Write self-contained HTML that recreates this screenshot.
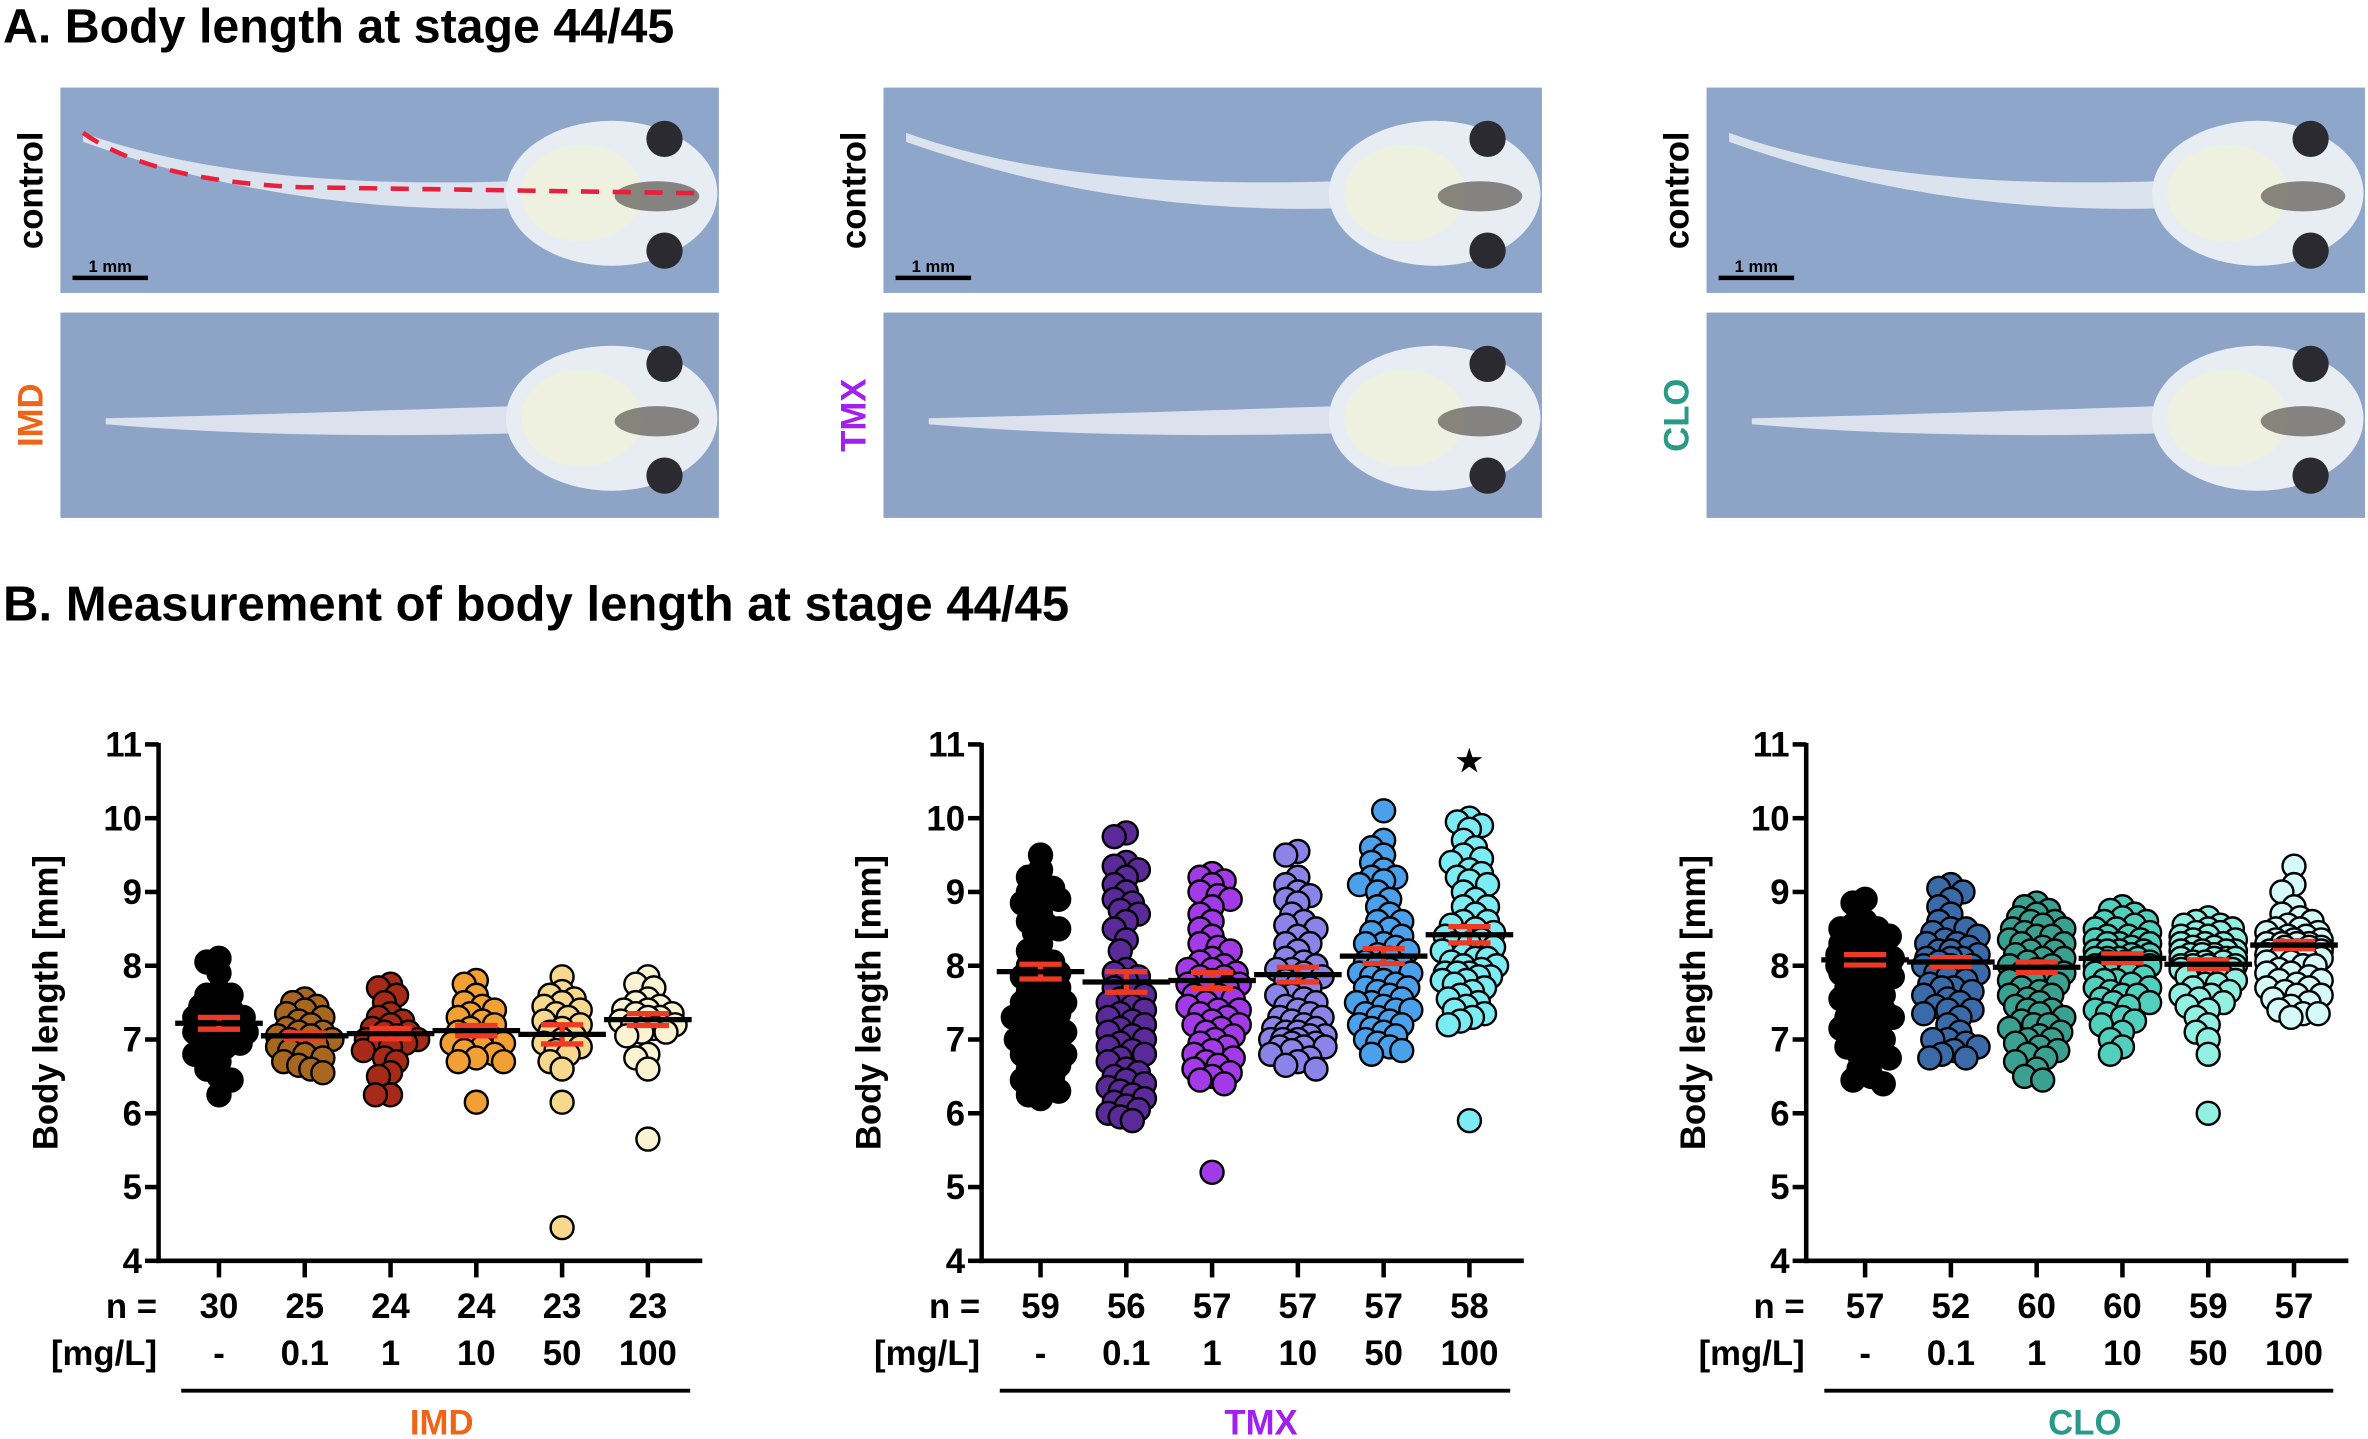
<!DOCTYPE html>
<html><head><meta charset="utf-8"><style>
html,body{margin:0;padding:0;background:#fff}
svg{display:block}
text{font-family:"Liberation Sans",Arial,sans-serif;font-weight:bold}
</style></head><body>
<svg id="fig" xmlns="http://www.w3.org/2000/svg" width="2368" height="1439" viewBox="0 0 1568 953" preserveAspectRatio="none">
<text x="2" y="28" font-size="32">A. Body length at stage 44/45</text>
<text x="2" y="411" font-size="32.5">B. Measurement of body length at stage 44/45</text>
<g id="photos"></g>
<g id="charts"></g>
</svg>
<script>
// ---- data ----
const tickLabels = [4,5,6,7,8,9,10,11];
const doseLabels = ["-","0.1","1","10","50","100"];
const compounds = ["IMD","TMX","CLO"];
const compoundColors = ["#f06418","#a020f0","#2a9a88"];
const nIMD = [30,25,24,24,23,23];
const nTMX = [59,56,57,57,57,58];
const nCLO = [57,52,60,60,59,57];
const meanIMD = [7.22,7.05,7.08,7.12,7.07,7.27];
const meanTMX = [7.92,7.78,7.80,7.88,8.13,8.42];
const meanCLO = [8.08,8.05,7.98,8.10,8.02,8.28];
const semIMD = [0.08,0.04,0.07,0.07,0.13,0.08];
const semTMX = [0.1,0.14,0.11,0.1,0.1,0.11];
const semCLO = [0.07,0.06,0.07,0.06,0.06,0.05];
const valsIMD = [
 [8.1,8.05,7.9,7.65,7.6,7.6,7.5,7.45,7.4,7.35,7.3,7.3,7.25,7.2,7.2,7.15,7.1,7.1,7.05,7.0,7.0,6.95,6.9,6.85,6.8,6.7,6.6,6.5,6.45,6.25],
 [7.55,7.5,7.45,7.4,7.35,7.3,7.25,7.2,7.15,7.1,7.1,7.05,7.05,7.0,7.0,6.95,6.9,6.9,6.85,6.8,6.75,6.7,6.65,6.6,6.55],
 [7.75,7.7,7.6,7.5,7.35,7.3,7.25,7.2,7.15,7.1,7.1,7.05,7.0,7.0,6.95,6.95,6.9,6.85,6.75,6.7,6.55,6.5,6.25,6.25],
 [7.8,7.75,7.6,7.5,7.45,7.4,7.35,7.3,7.25,7.2,7.15,7.1,7.05,7.0,7.0,6.95,6.95,6.9,6.85,6.8,6.75,6.7,6.7,6.15],
 [7.85,7.65,7.6,7.55,7.5,7.45,7.4,7.35,7.3,7.25,7.2,7.15,7.1,7.05,7.0,6.95,6.9,6.85,6.8,6.7,6.6,6.15,4.45],
 [7.85,7.75,7.7,7.55,7.5,7.45,7.4,7.4,7.35,7.35,7.3,7.3,7.25,7.2,7.2,7.15,7.1,7.1,7.05,6.8,6.75,6.6,5.65]
];
const valsTMX = [
 [9.5,9.3,9.2,9.1,9.05,9.0,8.95,8.9,8.85,8.7,8.6,8.55,8.5,8.45,8.3,8.2,8.1,8.05,8.0,7.95,7.9,7.85,7.8,7.75,7.7,7.65,7.6,7.55,7.5,7.5,7.45,7.4,7.35,7.3,7.3,7.25,7.2,7.15,7.1,7.1,7.05,7.0,6.95,6.9,6.85,6.8,6.8,6.75,6.7,6.65,6.6,6.55,6.5,6.45,6.4,6.35,6.3,6.25,6.2],
 [9.8,9.75,9.4,9.35,9.3,9.2,9.1,9.0,8.9,8.85,8.75,8.7,8.6,8.5,8.35,8.2,7.95,7.9,7.85,7.8,7.7,7.6,7.55,7.5,7.45,7.4,7.35,7.3,7.25,7.2,7.15,7.1,7.05,7.0,6.95,6.9,6.85,6.8,6.75,6.7,6.6,6.55,6.5,6.45,6.4,6.35,6.3,6.25,6.2,6.15,6.1,6.05,6.0,5.95,5.9,7.65],
 [9.25,9.2,9.15,9.1,9.0,8.95,8.9,8.8,8.7,8.6,8.5,8.4,8.3,8.2,8.1,8.0,7.95,7.9,7.85,7.8,7.75,7.7,7.65,7.6,7.55,7.5,7.45,7.4,7.35,7.3,7.25,7.2,7.15,7.1,7.05,7.0,6.95,6.9,6.85,6.8,6.75,6.7,6.65,6.6,6.55,6.5,6.45,6.4,7.95,8.05,7.85,7.75,7.6,7.4,7.2,8.25,5.2],
 [9.55,9.5,9.2,9.1,9.0,8.95,8.9,8.85,8.7,8.6,8.5,8.4,8.3,8.2,8.1,8.0,7.95,7.9,7.85,7.8,7.7,7.6,7.5,7.4,7.35,7.3,7.25,7.2,7.15,7.1,7.1,7.05,7.05,7.0,7.0,6.95,6.95,6.9,6.9,6.85,6.8,6.75,6.7,6.65,6.6,7.6,7.45,7.3,7.15,7.0,6.9,8.05,8.3,8.55,7.95,7.75,7.55],
 [10.1,9.7,9.6,9.5,9.4,9.3,9.2,9.2,9.15,9.1,9.0,8.9,8.8,8.7,8.6,8.5,8.45,8.4,8.3,8.25,8.2,8.15,8.1,8.05,8.0,7.95,7.9,7.85,7.8,7.75,7.7,7.65,7.6,7.55,7.5,7.45,7.4,7.35,7.3,7.25,7.2,7.15,7.1,7.05,7.0,6.95,6.9,6.85,6.8,7.5,7.4,7.2,7.9,8.0,8.3,8.6,7.7],
 [10.0,9.95,9.9,9.85,9.7,9.6,9.5,9.45,9.4,9.3,9.2,9.15,9.1,9.0,8.9,8.8,8.7,8.6,8.55,8.5,8.45,8.4,8.35,8.3,8.25,8.2,8.15,8.1,8.05,8.0,7.95,7.9,7.9,7.85,7.85,7.8,7.8,7.75,7.7,7.65,7.6,7.55,7.5,7.45,7.4,7.35,7.3,7.25,7.2,8.3,8.1,8.0,7.9,8.6,8.4,8.8,9.25,5.9]
];
const valsCLO = [
 [8.9,8.85,8.6,8.55,8.5,8.5,8.45,8.4,8.35,8.3,8.25,8.2,8.15,8.1,8.1,8.05,8.05,8.0,8.0,7.95,7.95,7.9,7.85,7.8,7.75,7.7,7.65,7.6,7.55,7.5,7.45,7.4,7.35,7.3,7.25,7.2,7.15,7.1,7.05,7.0,6.95,6.9,6.85,6.8,6.75,6.7,6.6,6.5,6.45,6.4,8.2,8.3,8.0,7.9,8.4,7.6,7.3],
 [9.1,9.05,9.0,8.9,8.8,8.7,8.6,8.5,8.45,8.4,8.35,8.3,8.25,8.2,8.15,8.1,8.1,8.05,8.0,8.0,7.95,7.9,7.85,7.8,7.75,7.7,7.65,7.6,7.55,7.5,7.45,7.4,7.35,7.3,7.2,7.1,7.0,6.95,6.9,6.85,6.8,6.75,8.2,8.1,8.0,7.9,8.3,8.5,7.7,7.4,7.0,6.75],
 [8.85,8.8,8.75,8.7,8.65,8.6,8.55,8.5,8.45,8.4,8.35,8.3,8.25,8.2,8.15,8.1,8.05,8.0,7.95,7.9,7.85,7.8,7.75,7.7,7.65,7.6,7.55,7.5,7.45,7.4,7.35,7.3,7.25,7.2,7.15,7.1,7.05,7.0,6.95,6.9,6.85,6.8,6.75,6.7,6.6,6.5,6.45,8.3,8.2,8.1,8.0,7.9,7.8,7.6,7.4,7.2,8.5,8.6,8.4,7.0],
 [8.8,8.75,8.7,8.65,8.6,8.55,8.5,8.45,8.4,8.35,8.3,8.25,8.2,8.2,8.15,8.15,8.1,8.1,8.05,8.05,8.0,8.0,7.95,7.9,7.85,7.8,7.75,7.7,7.65,7.6,7.55,7.5,7.45,7.4,7.35,7.3,7.2,7.1,7.0,6.9,6.8,8.3,8.2,8.1,8.0,7.9,8.4,8.5,8.6,7.6,7.8,8.0,8.1,8.2,8.3,7.7,7.5,7.25,8.35,8.05],
 [8.65,8.6,8.55,8.5,8.45,8.4,8.35,8.3,8.3,8.25,8.2,8.2,8.15,8.15,8.1,8.1,8.05,8.05,8.0,8.0,7.95,7.95,7.9,7.85,7.8,7.75,7.7,7.65,7.6,7.55,7.5,7.4,7.3,7.2,7.1,7.0,6.8,8.3,8.2,8.1,8.0,7.9,8.4,8.5,8.25,8.15,8.05,7.95,7.85,7.75,7.6,7.45,8.35,8.45,8.55,8.0,8.1,8.2,6.0],
 [9.35,9.1,9.0,8.8,8.7,8.6,8.55,8.5,8.45,8.4,8.35,8.35,8.3,8.3,8.25,8.25,8.2,8.2,8.15,8.15,8.1,8.1,8.05,8.0,7.95,7.9,7.85,7.8,7.75,7.7,7.65,7.6,7.55,7.5,7.45,7.4,7.35,7.3,8.3,8.2,8.1,8.4,8.5,8.0,7.9,8.25,8.35,8.15,8.05,7.8,7.6,8.45,8.3,8.2,7.7,7.35,8.65]
];
const colorsIMD = ["#000000","#a8671f","#a62a17","#f2a034","#f6d98c","#fbf3d2"];
const colorsTMX = ["#000000","#5a2a98","#a33ae8","#8a84e8","#4aa0ea","#7cecf4"];
const colorsCLO = ["#000000","#3a6aa8","#3aa090","#52d0be","#92f0e2","#d4fafa"];

// ---- layout ----
const NS = "http://www.w3.org/2000/svg";
function el(tag, attrs, parent){const e=document.createElementNS(NS,tag);for(const k in attrs)e.setAttribute(k,attrs[k]);parent.appendChild(e);return e;}
const yTop=493, yBot=835, vMin=4, vMax=11;
function yScale(v){return yBot-(v-vMin)/(vMax-vMin)*(yBot-yTop);}
const charts=[
 {ax:105, cx0:145, vals:valsIMD, means:meanIMD, sems:semIMD, ns:nIMD, colors:colorsIMD, line:[120,457]},
 {ax:650, cx0:689, vals:valsTMX, means:meanTMX, sems:semTMX, ns:nTMX, colors:colorsTMX, line:[662,1000]},
 {ax:1196, cx0:1235, vals:valsCLO, means:meanCLO, sems:semCLO, ns:nCLO, colors:colorsCLO, line:[1208,1545]}
];
const step=56.8, R=7.6, maxOff=18;
const root=document.getElementById('charts');
charts.forEach((c,ci)=>{
  const g=el('g',{},root);
  
  
  function xScale(i){return c.cx0+i*step;}
  const yt=el('text',{x:0,y:0,'font-size':23,'text-anchor':'middle',transform:`translate(${c.ax-67},664) rotate(-90)`},g);
  yt.textContent='Body length [mm]';
  
  
  tickLabels.forEach(t=>{
    const y=yScale(t);
    const tk=el('line',{x1:c.ax-9,x2:c.ax,y1:y,y2:y,stroke:'#000','stroke-width':3},g);
    
    
    const tl=el('text',{x:c.ax-11,y:y+8,'font-size':23,'text-anchor':'end'},g);
    tl.textContent=t;
    
    
  });
  const ya=el('line',{x1:c.ax,x2:c.ax,y1:yTop-1,y2:yBot+1.5,stroke:'#000','stroke-width':3},g);
  
  
  const xa=el('line',{x1:c.ax-1.5,x2:xScale(5)+36,y1:yBot,y2:yBot,stroke:'#000','stroke-width':3},g);
  
  
  const nl=el('text',{x:c.ax-1,y:873,'font-size':23,'text-anchor':'end'},g);
  nl.textContent='n =';
  
  
  const ml=el('text',{x:c.ax-1,y:904,'font-size':23,'text-anchor':'end'},g);
  ml.textContent='[mg/L]';
  
  
  c.vals.forEach((vals,i)=>{
    const cx=xScale(i);
    const xt=el('line',{x1:cx,x2:cx,y1:yBot,y2:yBot+11,stroke:'#000','stroke-width':3},g);
    
    
    const nt=el('text',{x:cx,y:873,'font-size':23,'text-anchor':'middle'},g);
    nt.textContent=c.ns[i];
    
    
    const dt=el('text',{x:cx,y:904,'font-size':23,'text-anchor':'middle'},g);
    dt.textContent=doseLabels[i];
    
    
    const sorted=vals.slice().sort((a,b)=>b-a);
    const placed=[];
    const minD=R*1.1;
    sorted.forEach(v=>{
      const y=yScale(v);
      let best=null, bestScore=1e9;
      for(let off=-maxOff; off<=maxOff; off+=2){
        const near=placed.filter(p=>Math.abs(p[1]-y)<minD);
        let overlap=0;
        near.forEach(p=>{const d=Math.hypot(p[0]-off,p[1]-y); if(d<minD) overlap+=minD-d;});
        const score=overlap*4+Math.abs(off)*0.3;
        if(score<bestScore){bestScore=score;best=off;}
      }
      placed.push([best,y]);
    });
    const pg=el('g',{},g);
    
    
    placed.forEach(p=>{
      const d=el('circle',{cx:cx+p[0],cy:p[1],r:R,fill:c.colors[i],stroke:'#000','stroke-width':1.6},pg);
      
      
    });
    const m=c.means[i], s=c.sems[i];
    const e1=el('line',{x1:cx,x2:cx,y1:yScale(m+s),y2:yScale(m-s),stroke:'#ee3a24','stroke-width':3.5},g);
    
    
    [m+s,m-s].forEach(v=>{
      const cap=el('line',{x1:cx-14,x2:cx+14,y1:yScale(v),y2:yScale(v),stroke:'#ee3a24','stroke-width':3.5},g);
      
      
    });
    const ml2=el('line',{x1:cx-29,x2:cx+29,y1:yScale(m),y2:yScale(m),stroke:'#000','stroke-width':3.5},g);
    
    
  });
  const bl=el('line',{x1:c.line[0],x2:c.line[1],y1:921,y2:921,stroke:'#000','stroke-width':2.5},g);
  
  
  const cl=el('text',{x:(c.line[0]+c.line[1])/2+4,y:950,'font-size':23,'text-anchor':'middle',fill:compoundColors[ci]},g);
  cl.textContent=compounds[ci];
  
  
  if(ci===1){
    const st=el('text',{x:xScale(5),y:yScale(10.8)+8,'font-size':20,'text-anchor':'middle'},g);
    st.textContent='★';
    
    
  }
});

// ---- photos ----
const photos=document.getElementById('photos');
const px=[40,585,1130];
const labelsBottom=["IMD","TMX","CLO"];
px.forEach((x0,pi)=>{
  [[58,"control","#000"],[207,labelsBottom[pi],compoundColors[pi]]].forEach((row,ri)=>{
    const y0=row[0];
    const pg=el('g',{},photos);
    
    
    el('rect',{x:x0,y:y0,width:436,height:136,fill:ri? '#8ea4c6':'#8fa6cb'},pg);
    const mid=y0+70;
    el('path',{d:`M${x0+(ri?30:15)} ${mid+(ri?0:-40)} Q${x0+120} ${mid-2} ${x0+300} ${mid-8} L${x0+300} ${mid+10} Q${x0+150} ${mid+14} ${x0+(ri?30:15)} ${mid+(ri?4:-34)} Z`,fill:'#dfe6f0',opacity:0.95},pg);
    el('ellipse',{cx:x0+365,cy:mid,rx:70,ry:48,fill:'#e8edf4'},pg);
    el('ellipse',{cx:x0+345,cy:mid,rx:40,ry:32,fill:'#eef0e0'},pg);
    el('ellipse',{cx:x0+395,cy:mid+2,rx:28,ry:10,fill:'#5a5550',opacity:0.7},pg);
    el('circle',{cx:x0+400,cy:mid-36,r:12,fill:'#2a2a30'},pg);
    el('circle',{cx:x0+400,cy:mid+38,r:12,fill:'#2a2a30'},pg);
    if(ri===0){
      const sb=el('line',{x1:x0+8,x2:x0+58,y1:y0+126,y2:y0+126,stroke:'#000','stroke-width':3},pg);
      
      
      const st=el('text',{x:x0+33,y:y0+122,'font-size':11,'text-anchor':'middle'},pg);
      st.textContent='1 mm';
      
      
      if(pi===0){
        el('path',{d:`M${x0+15} ${y0+30} Q${x0+60} ${y0+62} ${x0+160} ${y0+66} L${x0+425} ${y0+70}`,fill:'none',stroke:'#e8203c','stroke-width':3,'stroke-dasharray':'12 9'},pg);
      }
    }
    const lt=el('text',{x:0,y:0,'font-size':23,'text-anchor':'middle',fill:row[2],transform:`translate(${x0-12},${y0+68}) rotate(-90)`},pg);
    lt.textContent=row[1];
    
    
  });
});
</script>
</body></html>
